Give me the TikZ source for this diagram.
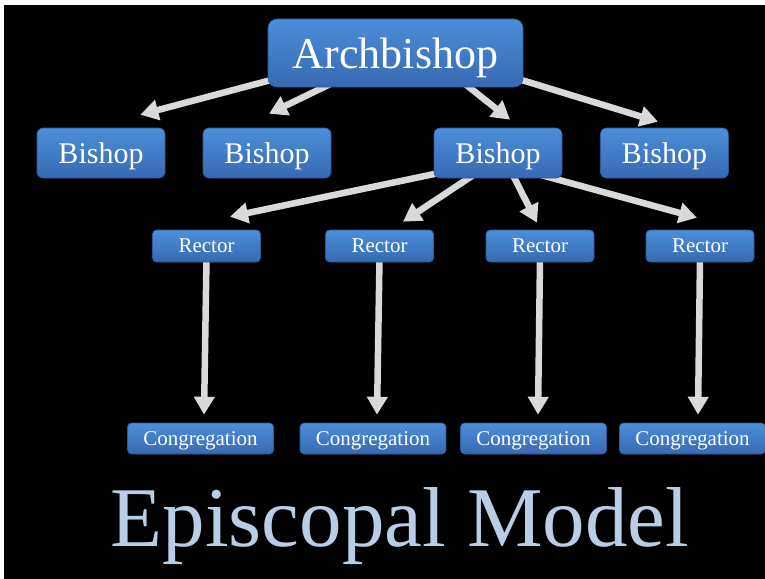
\documentclass[tikz,border=0pt]{standalone}
\usepackage{fontspec}
\setmainfont{Liberation Serif}
\usetikzlibrary{arrows.meta,calc}
\definecolor{boxtop}{RGB}{76,142,218}
\definecolor{boxbot}{RGB}{55,105,178}
\definecolor{boxedge}{RGB}{44,88,152}
\definecolor{arrowgray}{RGB}{217,217,217}
\definecolor{titleblue}{RGB}{185,205,229}
\pgfdeclarelayer{bg}
\pgfsetlayers{bg,main}
\tikzset{
  box/.style={rounded corners=6pt, top color=boxtop, bottom color=boxbot, draw=boxedge, line width=0.6pt, text=white, inner sep=0pt, align=center, text depth=0pt},
  archbox/.style={box, rounded corners=9pt, minimum width=255pt, minimum height=68pt, font=\fontsize{44}{48}\selectfont},
  bishopbox/.style={box, minimum width=128pt, minimum height=50pt, font=\fontsize{30}{34}\selectfont},
  rectorbox/.style={box, rounded corners=4pt, minimum width=108pt, minimum height=32pt, font=\fontsize{21}{24}\selectfont},
  congbox/.style={box, rounded corners=4pt, minimum width=146pt, minimum height=31pt, font=\fontsize{21}{24}\selectfont},
  arr/.style={draw=arrowgray, line width=6.5pt, -{Triangle[length=18pt,width=20pt]}},
}
\begin{document}
\begin{tikzpicture}[x=1pt,y=-1pt]
\useasboundingbox (0,0) rectangle (765,578);
\begin{pgfonlayer}{bg}
\fill[white] (0,0) rectangle (765,578);
\fill[black] (4,5) rectangle (770,583);
\end{pgfonlayer}

\node[archbox] (arch) at (395.5,53) {Archbishop};

\node[bishopbox] (b1) at (101,153) {Bishop};
\node[bishopbox] (b2) at (267,153) {Bishop};
\node[bishopbox] (b3) at (498,153) {Bishop};
\node[bishopbox] (b4) at (664.5,153) {Bishop};

\node[rectorbox] (r1) at (206.5,246) {Rector};
\node[rectorbox] (r2) at (379.5,246) {Rector};
\node[rectorbox] (r3) at (540,246) {Rector};
\node[rectorbox] (r4) at (700,246) {Rector};

\node[congbox] (c1) at (200.5,438.5) {Congregation};
\node[congbox] (c2) at (373,438.5) {Congregation};
\node[congbox] (c3) at (533.5,438.5) {Congregation};
\node[congbox] (c4) at (692.5,438.5) {Congregation};

\node[anchor=base, text=titleblue, inner sep=0pt, font=\fontsize{85}{90}\selectfont] (title) at (400,546) {Episcopal Model};

\begin{pgfonlayer}{bg}
\draw[arr] ($(arch.south west)+(6,-8)$) -- ($(b1.north east)+(-25,-13)$);
\draw[arr] ($(arch.south west)+(62,-3)$) -- ($(b2.north)+(2,-14)$);
\draw[arr] ($(arch.south)+(70,-3)$) -- ($(b3.north)+(12,-8)$);
\draw[arr] ($(arch.south east)+(-4,-8)$) -- ($(b4.north)+(-6.5,-6)$);

\draw[arr] ($(b3.south west)+(4,-5)$) -- ($(r1.north)+(23.5,-13)$);
\draw[arr] ($(b3.south)+(-25,-3)$) -- ($(r2.north)+(23.5,-8)$);
\draw[arr] ($(b3.south)+(15,-3)$) -- ($(r3.north)+(-3,-7)$);
\draw[arr] ($(b3.south)+(44,-3)$) -- ($(r4.north)+(-3,-12)$);

\draw[arr] ($(r1.south)+(0,-3)$) -- ($(c1.north)+(3.5,-8)$);
\draw[arr] ($(r2.south)+(0,-3)$) -- ($(c2.north)+(4,-8)$);
\draw[arr] ($(r3.south)+(0,-3)$) -- ($(c3.north)+(4.5,-8)$);
\draw[arr] ($(r4.south)+(0,-3)$) -- ($(c4.north)+(5.5,-8)$);
\end{pgfonlayer}
\end{tikzpicture}
\end{document}
